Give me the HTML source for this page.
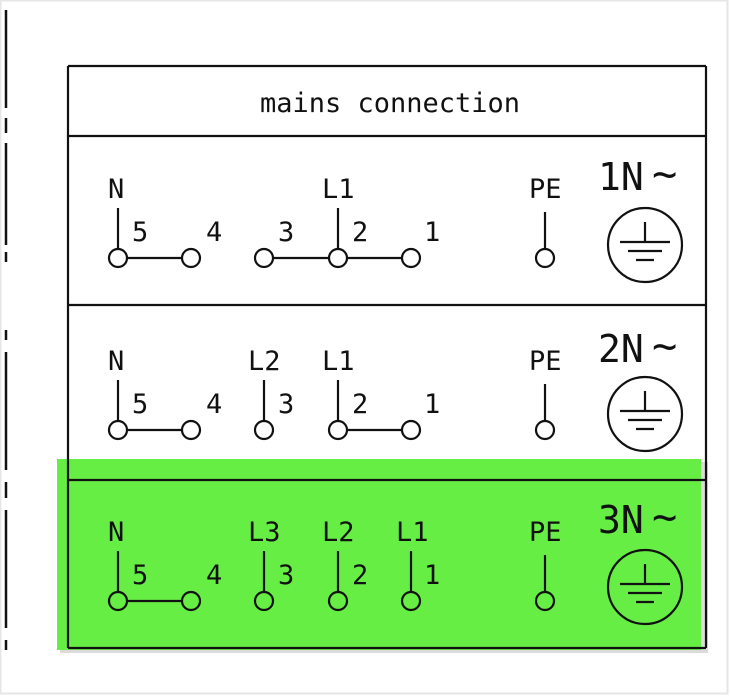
<!DOCTYPE html>
<html><head><style>
html,body{margin:0;padding:0;background:#fff;}
svg{display:block;}
text{font-family:"DejaVu Sans Mono","Liberation Mono",monospace;fill:#111;}
</style></head><body>
<svg width="730" height="696" viewBox="0 0 730 696" xmlns="http://www.w3.org/2000/svg">
<rect x="0" y="0" width="730" height="696" fill="#fff"/>
<rect x="0.5" y="0.5" width="727" height="693" fill="none" stroke="#e6e6e6" stroke-width="2"/>
<g stroke="#111" stroke-width="2.5">
<line x1="6" y1="10" x2="6" y2="108"/>
<line x1="6" y1="118" x2="6" y2="133"/>
<line x1="6" y1="143" x2="6" y2="245"/>
<line x1="6" y1="252" x2="6" y2="262"/>
<line x1="6" y1="330" x2="6" y2="340"/>
<line x1="6" y1="352" x2="6" y2="470"/>
<line x1="6" y1="482" x2="6" y2="498"/>
<line x1="6" y1="510" x2="6" y2="628"/>
<line x1="6" y1="640" x2="6" y2="650"/>
</g>
<rect x="60" y="462" width="648" height="191" fill="#999" opacity="0.35"/>
<rect x="57" y="459" width="644" height="191" fill="#66ee44"/>
<g fill="none" stroke="#111" stroke-width="2.2">
<line x1="68" y1="66" x2="706" y2="66"/>
<line x1="68" y1="66" x2="68" y2="648"/>
<line x1="706" y1="66" x2="706" y2="648"/>
<line x1="68" y1="136" x2="706" y2="136"/>
<line x1="68" y1="305" x2="706" y2="305"/>
<line x1="68" y1="480" x2="706" y2="480"/>
<line x1="68" y1="648" x2="706" y2="648"/>
</g>
<text x="390" y="112" font-size="27" text-anchor="middle" textLength="260" lengthAdjust="spacingAndGlyphs">mains connection</text>

<g stroke="#111" stroke-width="2.2" fill="none">
<line x1="118" y1="208" x2="118" y2="249"/>
<line x1="338" y1="208" x2="338" y2="249"/>
<line x1="545" y1="212" x2="545" y2="249"/>
<line x1="127" y1="258" x2="182" y2="258"/>
<line x1="273" y1="258" x2="329" y2="258"/>
<line x1="347" y1="258" x2="402" y2="258"/>
<circle cx="118" cy="258" r="9"/><circle cx="191" cy="258" r="9"/><circle cx="264" cy="258" r="9"/>
<circle cx="338" cy="258" r="9"/><circle cx="411" cy="258" r="9"/><circle cx="545" cy="258" r="9"/>
<circle cx="645" cy="245" r="37"/>
<line x1="645" y1="222" x2="645" y2="242"/>
<line x1="620" y1="242" x2="670" y2="242"/>
<line x1="628" y1="251" x2="662" y2="251"/>
<line x1="636" y1="260" x2="654" y2="260"/>
</g>
<g font-size="27">
<text x="108" y="198">N</text><text x="322" y="198">L1</text><text x="529" y="198">PE</text>
<text x="132" y="241">5</text><text x="206" y="241">4</text><text x="278" y="241">3</text><text x="352" y="241">2</text><text x="424" y="241">1</text>
<text x="598" y="190" font-size="38">1N</text><text x="652" y="188" font-size="42">~</text>
</g>

<g stroke="#111" stroke-width="2.2" fill="none">
<line x1="118" y1="380" x2="118" y2="421"/>
<line x1="264" y1="380" x2="264" y2="421"/>
<line x1="338" y1="380" x2="338" y2="421"/>
<line x1="545" y1="384" x2="545" y2="421"/>
<line x1="127" y1="430" x2="182" y2="430"/>
<line x1="347" y1="430" x2="402" y2="430"/>
<circle cx="118" cy="430" r="9"/><circle cx="191" cy="430" r="9"/><circle cx="264" cy="430" r="9"/>
<circle cx="338" cy="430" r="9"/><circle cx="411" cy="430" r="9"/><circle cx="545" cy="430" r="9"/>
<circle cx="645" cy="414" r="37"/>
<line x1="645" y1="391" x2="645" y2="411"/>
<line x1="620" y1="411" x2="670" y2="411"/>
<line x1="628" y1="420" x2="662" y2="420"/>
<line x1="636" y1="429" x2="654" y2="429"/>
</g>
<g font-size="27">
<text x="108" y="370">N</text><text x="248" y="370">L2</text><text x="322" y="370">L1</text><text x="529" y="370">PE</text>
<text x="132" y="413">5</text><text x="206" y="413">4</text><text x="278" y="413">3</text><text x="352" y="413">2</text><text x="424" y="413">1</text>
<text x="598" y="362" font-size="38">2N</text><text x="652" y="360" font-size="42">~</text>
</g>

<g stroke="#111" stroke-width="2.2" fill="none">
<line x1="118" y1="551" x2="118" y2="592"/>
<line x1="264" y1="551" x2="264" y2="592"/>
<line x1="338" y1="551" x2="338" y2="592"/>
<line x1="411" y1="551" x2="411" y2="592"/>
<line x1="545" y1="555" x2="545" y2="592"/>
<line x1="127" y1="601" x2="182" y2="601"/>
<circle cx="118" cy="601" r="9"/><circle cx="191" cy="601" r="9"/><circle cx="264" cy="601" r="9"/>
<circle cx="338" cy="601" r="9"/><circle cx="411" cy="601" r="9"/><circle cx="545" cy="601" r="9"/>
<circle cx="645" cy="587" r="37"/>
<line x1="645" y1="564" x2="645" y2="584"/>
<line x1="620" y1="584" x2="670" y2="584"/>
<line x1="628" y1="593" x2="662" y2="593"/>
<line x1="636" y1="602" x2="654" y2="602"/>
</g>
<g font-size="27">
<text x="108" y="541">N</text><text x="248" y="541">L3</text><text x="322" y="541">L2</text><text x="396" y="541">L1</text><text x="529" y="541">PE</text>
<text x="132" y="584">5</text><text x="206" y="584">4</text><text x="278" y="584">3</text><text x="352" y="584">2</text><text x="424" y="584">1</text>
<text x="598" y="533" font-size="38">3N</text><text x="652" y="531" font-size="42">~</text>
</g>
</svg>
</body></html>
